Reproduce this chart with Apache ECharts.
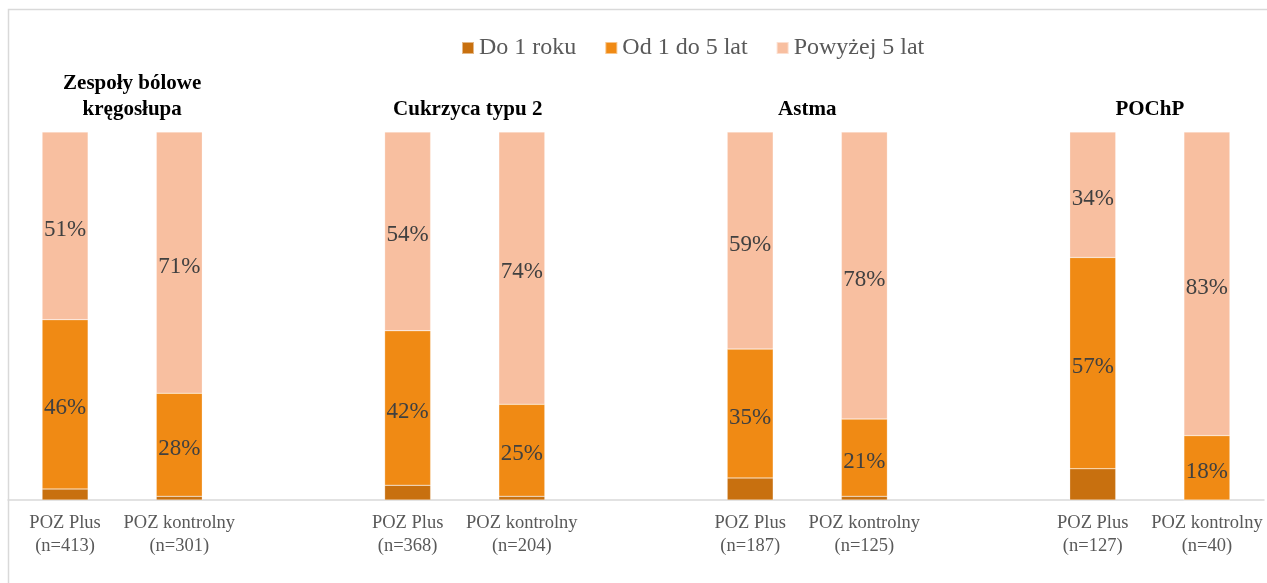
<!DOCTYPE html>
<html><head><meta charset="utf-8">
<script src="https://cdn.jsdelivr.net/npm/echarts@6/dist/echarts.min.js"></script>
<style>html,body{margin:0;padding:0;background:#fff}#c{width:1267px;height:583px}</style>
</head><body><div id="c"></div>
<script>
var groups = ['Zespoły bólowe\nkręgosłupa', 'Cukrzyca typu 2', 'Astma', 'POChP'];
var barNames = ['POZ Plus\n(n=413)', 'POZ kontrolny\n(n=301)', 'POZ Plus\n(n=368)', 'POZ kontrolny\n(n=204)',
                'POZ Plus\n(n=187)', 'POZ kontrolny\n(n=125)', 'POZ Plus\n(n=127)', 'POZ kontrolny\n(n=40)'];
var seriesNames = ['Do 1 roku', 'Od 1 do 5 lat', 'Powyżej 5 lat'];
var do1roku   = [3, 1, 4, 1, 6, 1, 8.5, 0];
var od1do5    = [46, 28, 42, 25, 35, 21, 57.4, 17.5];
var powyzej5  = [51, 71, 54, 74, 59, 78, 34.1, 82.5];
var colors = ['#C8700F', '#F08A14', '#F8BFA0'];

// build category slots with a blank gap between groups
var cats = [], slotIdx = [];
for (var g = 0; g < groups.length; g++) {
  if (g > 0) { cats.push(''); }
  for (var b = 0; b < 2; b++) { slotIdx.push(cats.length); cats.push(barNames[g * 2 + b]); }
}
function expand(arr) {
  var out = cats.map(function () { return null; });
  arr.forEach(function (v, i) { out[slotIdx[i]] = v; });
  return out;
}
var font = '"Liberation Serif", "Times New Roman", serif';
var allData = [do1roku, od1do5, powyzej5];
var chart = echarts.init(document.getElementById('c'));
var series = allData.map(function (arr, si) {
  return {
    name: seriesNames[si], type: 'bar', stack: 'all', barWidth: 46,
    itemStyle: { color: colors[si], borderColor: 'rgba(255,255,255,0.5)', borderWidth: 0.5 },
    label: {
      show: si > 0, position: 'inside', offset: [0, 4], fontFamily: font, fontSize: 23, color: '#404040',
      formatter: function (p) { return p.value ? Math.round(p.value) + '%' : ''; }
    },
    data: expand(arr)
  };
});
chart.setOption({
  animation: false,
  legend: {
    top: 31, left: 456, itemWidth: 12, itemHeight: 12, itemGap: 28,
    icon: 'rect', textStyle: { fontFamily: font, fontSize: 24, color: '#595959' },
    data: seriesNames
  },
  grid: { left: 8, right: 3, top: 132, bottom: 83 },
  xAxis: {
    type: 'category', data: cats,
    axisLine: { lineStyle: { color: '#D9D9D9', width: 1.5 } },
    axisTick: { show: false },
    axisLabel: { interval: 0, fontFamily: font, fontSize: 18.5, color: '#595959', lineHeight: 23, margin: 12 }
  },
  yAxis: { type: 'value', min: 0, max: 100, show: false, splitLine: { show: false } },
  series: series
});
// group titles positioned through the category scale
var titleShift = [10, 3, 0, 0];
var gfx = [{ type: 'rect', shape: { x: 8.5, y: 9.5, width: 1300, height: 600 }, style: { fill: 'none', stroke: '#D9D9D9', lineWidth: 1.5 }, silent: true }];
groups.forEach(function (t, g) {
  var x1 = chart.convertToPixel({ xAxisIndex: 0 }, slotIdx[g * 2]);
  var x2 = chart.convertToPixel({ xAxisIndex: 0 }, slotIdx[g * 2 + 1]);
  gfx.push({
    type: 'text', x: (x1 + x2) / 2 + titleShift[g], y: 123,
    style: { text: t, fontFamily: font, fontSize: 21, fontWeight: 'bold', fill: '#000', align: 'center', verticalAlign: 'bottom', lineHeight: 26 }
  });
});
chart.setOption({ graphic: gfx });
</script></body></html>
